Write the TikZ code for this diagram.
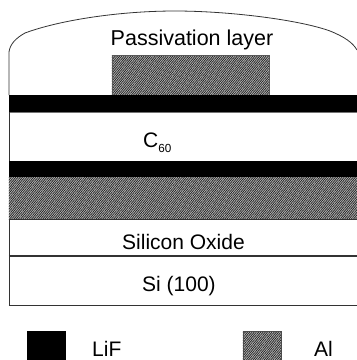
\documentclass[tikz,border=0pt]{standalone}
\usepackage{fontspec}
\setmainfont{Liberation Sans}
\usetikzlibrary{patterns.meta}
\tikzset{
  x=1pt,y=-1pt,
  hatched/.style={fill=black!25,postaction={pattern={Lines[angle=50,distance=1.7pt,line width=0.8pt]},pattern color=black!85}},
  lif/.style={fill=black,draw=none},
  outline/.style={draw=black!80,line width=0.9pt},
  lbl/.style={font=\fontsize{21.5}{25}\selectfont,inner sep=0pt,text=black},
  lblb/.style={font=\fontsize{21}{25}\selectfont,inner sep=0pt,text=black}
}
\begin{document}
\begin{tikzpicture}
\useasboundingbox (0,0) rectangle (357,360);
\fill[white] (0,0) rectangle (357,360);
% layers
\path[hatched] (112,55) rectangle (269,96);
\draw[black!65,line width=0.8pt] (112,95) -- (112,55.5) -- (269,55.5) -- (269,95);
\path[hatched] (9,177) rectangle (357,219);
\fill[lif] (9,95) rectangle (357,112);
\draw[black!55,line width=0.7pt] (9,112.3) -- (357,112.3);
\fill[lif] (9,161) rectangle (357,177);
% outline
\coordinate (tl) at (9,52);
\coordinate (tr) at (357,50);
\draw[outline,line width=0.8pt] (9,95) -- (tl) .. controls (10,44) and (16,38) .. (25,33) .. controls (60,20) and (120,11) .. (175,11) .. controls (230,11) and (300,20) .. (330,31) .. controls (345,37) and (353,43) .. (tr);
\draw[outline] (9,112) -- (9,161);
\draw[outline,line width=1.1pt] (9,219.5) -- (357,219.5);
\draw[outline,line width=1.1pt] (9,256) -- (357,256);
\draw[outline] (9,305.5) -- (357,305.5);
\draw[outline] (9,219) -- (9,305.5);
% labels
\node[lbl,anchor=base] (pass) at (192,45.5) {Passivation layer};
\node[lblb,anchor=base west] (c) at (143,147) {C\raisebox{-5pt}{\fontsize{11.7}{13}\selectfont 60}};
\node[lblb,anchor=base] (ox) at (183.5,249) {Silicon Oxide};
\node[lblb,anchor=base] (si) at (179,291) {Si (100)};
% legend
\fill[lif] (27,331) rectangle (66,360);
\path[hatched] (243,331) rectangle (281,360);
\draw[black!70,line width=0.8pt] (243,360) -- (243,331.5) -- (281,331.5) -- (281,360);
\node[lblb,anchor=base west] (lif) at (92,356) {LiF};
\node[lblb,anchor=base west] (al) at (314,356) {Al};
\end{tikzpicture}
\end{document}
